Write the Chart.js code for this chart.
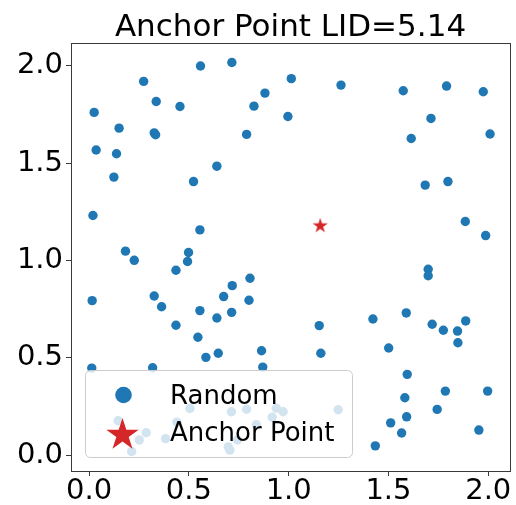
<!DOCTYPE html>
<html>
<head>
<meta charset="utf-8">
<script src="https://cdn.jsdelivr.net/npm/chart.js@4.4.1/dist/chart.umd.min.js"></script>
<style>
  html, body { margin: 0; padding: 0; background: #ffffff; }
  canvas { display: block; }
</style>
</head>
<body>
<canvas id="chart" width="516" height="505"></canvas>
<script>
// Uniform random sample in [0, 2] x [0, 2]
const randomX = [
  0.025, 0.035, 0.019, 0.150, 0.137, 0.124, 0.273, 0.336, 0.326, 0.333,
  0.455, 0.558, 0.715, 0.826, 0.789, 0.640, 0.523, 0.555, 0.182, 0.226,
  0.498, 0.493, 0.435, 0.881, 1.013, 0.996, 1.262, 1.574, 1.791, 1.975,
  1.713, 1.614, 2.009, 1.684, 1.798, 1.885, 1.987, 1.699, 1.699, 0.015,
  0.326, 0.363, 0.435, 0.555, 0.640, 0.674, 0.717, 0.714, 0.806, 0.801,
  0.545, 0.585, 0.647, 0.013, 0.318, 0.864, 0.870, 1.589, 1.422, 1.719,
  1.887, 1.775, 1.846, 1.848, 1.153, 1.161, 1.501, 1.594, 1.785, 1.997,
  1.582, 1.744, 1.591, 1.511, 1.566, 1.434, 1.953, 0.505, 0.145, 0.440,
  0.286, 0.251, 0.213, 0.383, 0.713, 0.789, 0.938, 0.972, 0.917, 1.248,
  0.838, 0.705, 0.697, 0.743
];
const randomY = [
  1.760, 1.567, 1.231, 1.679, 1.548, 1.428, 1.919, 1.816, 1.655, 1.645,
  1.790, 1.998, 2.016, 1.792, 1.647, 1.484, 1.405, 1.157, 1.048, 1.001,
  1.041, 0.995, 0.950, 1.859, 1.933, 1.739, 1.900, 1.871, 1.895, 1.866,
  1.729, 1.626, 1.649, 1.387, 1.405, 1.200, 1.128, 0.955, 0.922, 0.794,
  0.818, 0.763, 0.668, 0.743, 0.705, 0.815, 0.871, 0.734, 0.909, 0.796,
  0.606, 0.503, 0.524, 0.448, 0.450, 0.537, 0.453, 0.731, 0.700, 0.673,
  0.690, 0.642, 0.638, 0.578, 0.666, 0.524, 0.551, 0.416, 0.330, 0.330,
  0.296, 0.236, 0.198, 0.167, 0.115, 0.049, 0.130, 0.241, 0.178, 0.171,
  0.116, 0.079, 0.020, 0.086, 0.224, 0.237, 0.242, 0.224, 0.196, 0.234,
  0.157, 0.027, 0.044, 0.079
];
const anchorX = [1.158];
const anchorY = [1.178];

const xTicks = [0, 0.5, 1.0, 1.5, 2.0];
const yTicks = [0, 0.5, 1.0, 1.5, 2.0];
const seriesNames = ['Random', 'Anchor Point'];
const titleText = 'Anchor Point LID=5.14';

const FONT = "'DejaVu Sans', 'Liberation Sans', sans-serif";
const BLUE = '#1f77b4';
const RED = '#d62728';
const X_MIN = -0.091, X_MAX = 2.109;
const Y_MIN = -0.080, Y_MAX = 2.116;

// five-pointed star path (inner radius ratio of a regular star)
function starPath(ctx, cx, cy, R) {
  const r = R * 0.381966;
  ctx.beginPath();
  for (let i = 0; i < 10; i++) {
    const a = -Math.PI / 2 + i * Math.PI / 5;
    const rad = i % 2 === 0 ? R : r;
    const px = cx + rad * Math.cos(a);
    const py = cy + rad * Math.sin(a);
    if (i === 0) ctx.moveTo(px, py); else ctx.lineTo(px, py);
  }
  ctx.closePath();
}

function starImage(R, color) {
  const size = Math.ceil(2 * R + 2);
  const c = document.createElement('canvas');
  c.width = size; c.height = size;
  const g = c.getContext('2d');
  g.fillStyle = color;
  starPath(g, size / 2, size / 2, R);
  g.fill();
  return c;
}

const randomPoints = randomX.map((x, i) => ({ x: x, y: randomY[i] }));
const anchorPoints = anchorX.map((x, i) => ({ x: x, y: anchorY[i] }));

// full box around the plotting area
const framePlugin = {
  id: 'frame',
  afterDraw(chart) {
    const { ctx, chartArea: a } = chart;
    ctx.save();
    ctx.strokeStyle = '#3a3a3a';
    ctx.lineWidth = 1;
    ctx.strokeRect(a.left + 0.5, a.top + 0.5, a.right - a.left, a.bottom - a.top);
    ctx.restore();
  }
};

// legend box drawn inside the plot, lower left, semi-transparent face
const innerLegendPlugin = {
  id: 'innerLegend',
  afterDatasetsDraw(chart) {
    const { ctx, chartArea: a } = chart;
    const x0 = a.left + 14, y0 = 370, w = 267, h = 87, rad = 5;
    ctx.save();
    ctx.beginPath();
    ctx.roundRect(x0 + 0.5, y0 + 0.5, w, h, rad);
    ctx.fillStyle = 'rgba(255,255,255,0.8)';
    ctx.fill();
    ctx.strokeStyle = '#cccccc';
    ctx.lineWidth = 1;
    ctx.stroke();

    // markers
    ctx.fillStyle = BLUE;
    ctx.beginPath();
    ctx.arc(x0 + 38.5, 395, 8.3, 0, Math.PI * 2);
    ctx.fill();
    ctx.fillStyle = RED;
    starPath(ctx, x0 + 37.5, 435, 17);
    ctx.fill();

    // labels
    ctx.fillStyle = '#000000';
    ctx.font = '26px ' + FONT;
    ctx.textAlign = 'left';
    ctx.textBaseline = 'alphabetic';
    ctx.fillText(chart.data.datasets[0].label, x0 + 85, 404);
    ctx.fillText(chart.data.datasets[1].label, x0 + 85, 441);
    ctx.restore();
  }
};

function fixTicks(values) {
  return function (scale) {
    scale.ticks = values.map(v => ({ value: v }));
  };
}

const tickGrid = {
  display: true,
  drawOnChartArea: false,
  drawTicks: true,
  tickLength: 5,
  tickColor: '#3a3a3a'
};

new Chart(document.getElementById('chart'), {
  type: 'scatter',
  data: {
    datasets: [
      {
        label: seriesNames[0],
        data: randomPoints,
        backgroundColor: BLUE,
        borderWidth: 0,
        pointRadius: 4.7,
        pointHoverRadius: 4.7
      },
      {
        label: seriesNames[1],
        data: anchorPoints,
        pointStyle: starImage(8, RED),
        backgroundColor: RED,
        borderWidth: 0
      }
    ]
  },
  options: {
    responsive: false,
    animation: false,
    devicePixelRatio: 1,
    events: [],
    layout: { padding: { left: 0, right: 6, top: 0, bottom: 0 } },
    plugins: {
      legend: { display: false },
      tooltip: { enabled: false },
      title: { display: false }
    },
    scales: {
      // top axis carries only the heading, centred over the plot area
      xTop: {
        type: 'linear',
        position: 'top',
        min: X_MIN,
        max: X_MAX,
        afterBuildTicks: fixTicks([]),
        afterFit(scale) {
          scale.height = 43;
          scale.paddingLeft = 0;
          scale.paddingRight = 0;
        },
        border: { display: false },
        grid: { display: false, drawTicks: false },
        ticks: { display: false },
        title: {
          display: true,
          text: titleText,
          color: '#000000',
          font: { family: FONT, size: 31, weight: 'normal', lineHeight: 1 },
          padding: { top: 12, bottom: 0 }
        }
      },
      x: {
        type: 'linear',
        position: 'bottom',
        min: X_MIN,
        max: X_MAX,
        afterBuildTicks: fixTicks(xTicks),
        afterFit(scale) {
          scale.height = 34;
          scale.paddingLeft = 0;
          scale.paddingRight = 0;
        },
        border: { display: false },
        grid: tickGrid,
        ticks: {
          color: '#000000',
          padding: 1,
          maxRotation: 0,
          autoSkip: false,
          font: { family: FONT, size: 29, lineHeight: 1 },
          callback: v => Number(v).toFixed(1)
        }
      },
      y: {
        type: 'linear',
        min: Y_MIN,
        max: Y_MAX,
        afterBuildTicks: fixTicks(yTicks),
        afterFit(scale) {
          scale.width = 71;
          scale.paddingTop = 0;
          scale.paddingBottom = 0;
        },
        border: { display: false },
        grid: tickGrid,
        ticks: {
          color: '#000000',
          padding: 3,
          autoSkip: false,
          font: { family: FONT, size: 29, lineHeight: 1 },
          callback: v => Number(v).toFixed(1)
        }
      }
    }
  },
  plugins: [innerLegendPlugin, framePlugin]
});
</script>
</body>
</html>
